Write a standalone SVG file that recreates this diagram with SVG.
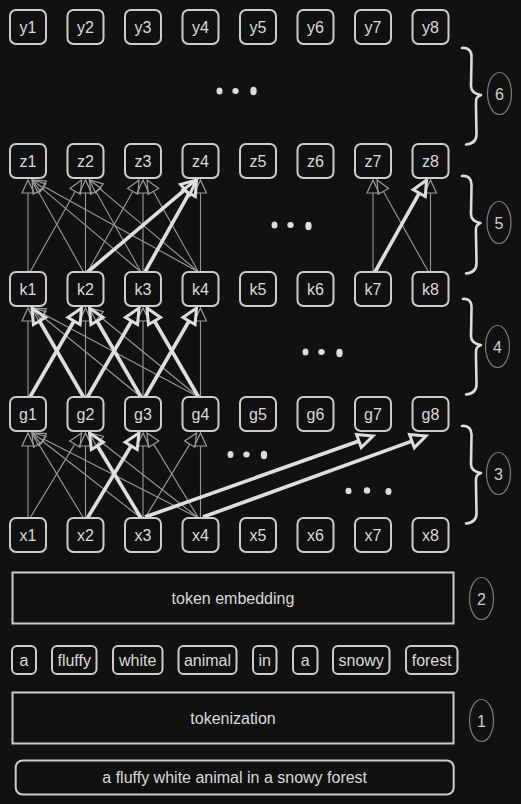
<svg xmlns="http://www.w3.org/2000/svg" width="521" height="804" viewBox="0 0 521 804">
<style>
.bg{fill:#111111}
.box{fill:#111111;stroke:#cdcdcd;stroke-width:2}
.lbl{font-family:"Liberation Sans",Arial,sans-serif;font-size:16px;fill:#dadada;text-anchor:middle}
.num{font-family:"Liberation Sans",Arial,sans-serif;font-size:16px;fill:#cfcfcf;text-anchor:middle}
.ring{fill:none;stroke:#7a7a7a;stroke-width:1.2}
.brace{fill:none;stroke:#dcdcdc;stroke-width:2.6;stroke-linecap:round;stroke-linejoin:round}
.thin{fill:none;stroke:#9a9a9a;stroke-width:1.1;marker-end:url(#ht)}
.thick{fill:none;stroke:#dedede;stroke-width:3.6;marker-end:url(#hk)}
.dot{fill:#dddddd}
</style>
<defs>
<marker id="ht" markerUnits="userSpaceOnUse" markerWidth="16" markerHeight="14" refX="1" refY="7" orient="auto" overflow="visible">
<path d="M1,1 L14,7 L1,13 Z" fill="none" stroke="#9a9a9a" stroke-width="1.2"/>
</marker>
<marker id="hk" markerUnits="userSpaceOnUse" markerWidth="18" markerHeight="18" refX="1" refY="8.5" orient="auto" overflow="visible">
<path d="M1,1.5 L16,8.5 L1,15.5 Z" fill="none" stroke="#dedede" stroke-width="3" stroke-linejoin="miter"/>
</marker>
</defs>
<rect class="bg" x="0" y="0" width="521" height="804"/>

<g id="connectors">
<!-- x -> g -->
<line class="thin" x1="28" y1="518" x2="28" y2="446"/>
<line class="thin" x1="30" y1="518" x2="74.8" y2="444.1"/>
<line class="thin" x1="83.5" y1="518" x2="38.7" y2="444.1"/>
<line class="thin" x1="85.5" y1="518" x2="85.5" y2="446"/>
<line class="thin" x1="141" y1="518" x2="42.3" y2="441"/>
<line class="thin" x1="143" y1="518" x2="143" y2="446"/>
<line class="thin" x1="145" y1="518" x2="189.8" y2="444.1"/>
<line class="thin" x1="198.5" y1="518" x2="43.6" y2="438.9"/>
<line class="thin" x1="198.5" y1="518" x2="99.8" y2="441"/>
<line class="thin" x1="198.5" y1="518" x2="153.7" y2="444.1"/>
<line class="thin" x1="200.5" y1="518" x2="200.5" y2="446"/>
<line class="thick" x1="141" y1="518" x2="97.3" y2="445.8"/>
<line class="thick" x1="87.5" y1="518" x2="131.2" y2="445.8"/>
<line class="thick" x1="145" y1="517" x2="358.9" y2="441"/>
<line class="thick" x1="203" y1="517" x2="411.9" y2="441.1"/>
<!-- g -> k -->
<line class="thin" x1="28" y1="397" x2="28" y2="321"/>
<line class="thin" x1="85.5" y1="397" x2="85.5" y2="321"/>
<line class="thin" x1="143" y1="397" x2="143" y2="321"/>
<line class="thin" x1="200.5" y1="397" x2="200.5" y2="321"/>
<line class="thin" x1="141" y1="397" x2="42.1" y2="316.2"/>
<line class="thin" x1="198.5" y1="397" x2="43.5" y2="314.1"/>
<line class="thin" x1="198.5" y1="397" x2="99.6" y2="316.2"/>
<line class="thick" x1="30" y1="397" x2="74" y2="321"/>
<line class="thick" x1="83.5" y1="397" x2="39.5" y2="321"/>
<line class="thick" x1="87.5" y1="397" x2="131.5" y2="321"/>
<line class="thick" x1="141" y1="397" x2="97" y2="321"/>
<line class="thick" x1="145" y1="397" x2="189" y2="321"/>
<line class="thick" x1="198.5" y1="397" x2="154.5" y2="321"/>
<!-- k -> z -->
<line class="thin" x1="28" y1="272" x2="28" y2="193"/>
<line class="thin" x1="85.5" y1="272" x2="85.5" y2="193"/>
<line class="thin" x1="143" y1="272" x2="143" y2="193"/>
<line class="thin" x1="200.5" y1="272" x2="200.5" y2="193"/>
<line class="thin" x1="30" y1="272" x2="75.2" y2="191.4"/>
<line class="thin" x1="83.5" y1="272" x2="38.4" y2="191.4"/>
<line class="thin" x1="87.5" y1="272" x2="132.7" y2="191.4"/>
<line class="thin" x1="141" y1="272" x2="41.9" y2="188.4"/>
<line class="thin" x1="141" y1="272" x2="95.9" y2="191.4"/>
<line class="thin" x1="198.5" y1="272" x2="43.4" y2="186.3"/>
<line class="thin" x1="198.5" y1="272" x2="99.4" y2="188.4"/>
<line class="thin" x1="198.5" y1="272" x2="153.4" y2="191.4"/>
<line class="thick" x1="87.5" y1="272" x2="185" y2="189.7"/>
<line class="thick" x1="145" y1="272" x2="189.2" y2="193.1"/>
<line class="thin" x1="373" y1="272" x2="373" y2="193"/>
<line class="thin" x1="428.5" y1="272" x2="383.4" y2="191.4"/>
<line class="thin" x1="430.5" y1="272" x2="430.5" y2="193"/>
<line class="thick" x1="375" y1="272" x2="419.2" y2="193.1"/>
</g>

<!-- y row -->
<g id="y1"><rect class="box" x="10" y="10" width="36" height="34" rx="6"/><text class="lbl" x="28" y="33">y1</text></g>
<g id="y2"><rect class="box" x="67.5" y="10" width="36" height="34" rx="6"/><text class="lbl" x="85.5" y="33">y2</text></g>
<g id="y3"><rect class="box" x="125" y="10" width="36" height="34" rx="6"/><text class="lbl" x="143" y="33">y3</text></g>
<g id="y4"><rect class="box" x="182.5" y="10" width="36" height="34" rx="6"/><text class="lbl" x="200.5" y="33">y4</text></g>
<g id="y5"><rect class="box" x="240" y="10" width="36" height="34" rx="6"/><text class="lbl" x="258" y="33">y5</text></g>
<g id="y6"><rect class="box" x="297.5" y="10" width="36" height="34" rx="6"/><text class="lbl" x="315.5" y="33">y6</text></g>
<g id="y7"><rect class="box" x="355" y="10" width="36" height="34" rx="6"/><text class="lbl" x="373" y="33">y7</text></g>
<g id="y8"><rect class="box" x="412.5" y="10" width="36" height="34" rx="6"/><text class="lbl" x="430.5" y="33">y8</text></g>

<!-- z row -->
<g id="z1"><rect class="box" x="10" y="144" width="36" height="34" rx="6"/><text class="lbl" x="28" y="167">z1</text></g>
<g id="z2"><rect class="box" x="67.5" y="144" width="36" height="34" rx="6"/><text class="lbl" x="85.5" y="167">z2</text></g>
<g id="z3"><rect class="box" x="125" y="144" width="36" height="34" rx="6"/><text class="lbl" x="143" y="167">z3</text></g>
<g id="z4"><rect class="box" x="182.5" y="144" width="36" height="34" rx="6"/><text class="lbl" x="200.5" y="167">z4</text></g>
<g id="z5"><rect class="box" x="240" y="144" width="36" height="34" rx="6"/><text class="lbl" x="258" y="167">z5</text></g>
<g id="z6"><rect class="box" x="297.5" y="144" width="36" height="34" rx="6"/><text class="lbl" x="315.5" y="167">z6</text></g>
<g id="z7"><rect class="box" x="355" y="144" width="36" height="34" rx="6"/><text class="lbl" x="373" y="167">z7</text></g>
<g id="z8"><rect class="box" x="412.5" y="144" width="36" height="34" rx="6"/><text class="lbl" x="430.5" y="167">z8</text></g>

<!-- k row -->
<g id="k1"><rect class="box" x="10" y="272" width="36" height="34" rx="6"/><text class="lbl" x="28" y="295">k1</text></g>
<g id="k2"><rect class="box" x="67.5" y="272" width="36" height="34" rx="6"/><text class="lbl" x="85.5" y="295">k2</text></g>
<g id="k3"><rect class="box" x="125" y="272" width="36" height="34" rx="6"/><text class="lbl" x="143" y="295">k3</text></g>
<g id="k4"><rect class="box" x="182.5" y="272" width="36" height="34" rx="6"/><text class="lbl" x="200.5" y="295">k4</text></g>
<g id="k5"><rect class="box" x="240" y="272" width="36" height="34" rx="6"/><text class="lbl" x="258" y="295">k5</text></g>
<g id="k6"><rect class="box" x="297.5" y="272" width="36" height="34" rx="6"/><text class="lbl" x="315.5" y="295">k6</text></g>
<g id="k7"><rect class="box" x="355" y="272" width="36" height="34" rx="6"/><text class="lbl" x="373" y="295">k7</text></g>
<g id="k8"><rect class="box" x="412.5" y="272" width="36" height="34" rx="6"/><text class="lbl" x="430.5" y="295">k8</text></g>

<!-- g row -->
<g id="g1"><rect class="box" x="10" y="397" width="36" height="34" rx="6"/><text class="lbl" x="28" y="420">g1</text></g>
<g id="g2"><rect class="box" x="67.5" y="397" width="36" height="34" rx="6"/><text class="lbl" x="85.5" y="420">g2</text></g>
<g id="g3"><rect class="box" x="125" y="397" width="36" height="34" rx="6"/><text class="lbl" x="143" y="420">g3</text></g>
<g id="g4"><rect class="box" x="182.5" y="397" width="36" height="34" rx="6"/><text class="lbl" x="200.5" y="420">g4</text></g>
<g id="g5"><rect class="box" x="240" y="397" width="36" height="34" rx="6"/><text class="lbl" x="258" y="420">g5</text></g>
<g id="g6"><rect class="box" x="297.5" y="397" width="36" height="34" rx="6"/><text class="lbl" x="315.5" y="420">g6</text></g>
<g id="g7"><rect class="box" x="355" y="397" width="36" height="34" rx="6"/><text class="lbl" x="373" y="420">g7</text></g>
<g id="g8"><rect class="box" x="412.5" y="397" width="36" height="34" rx="6"/><text class="lbl" x="430.5" y="420">g8</text></g>

<!-- x row -->
<g id="x1"><rect class="box" x="10" y="518" width="36" height="34" rx="6"/><text class="lbl" x="28" y="541">x1</text></g>
<g id="x2"><rect class="box" x="67.5" y="518" width="36" height="34" rx="6"/><text class="lbl" x="85.5" y="541">x2</text></g>
<g id="x3"><rect class="box" x="125" y="518" width="36" height="34" rx="6"/><text class="lbl" x="143" y="541">x3</text></g>
<g id="x4"><rect class="box" x="182.5" y="518" width="36" height="34" rx="6"/><text class="lbl" x="200.5" y="541">x4</text></g>
<g id="x5"><rect class="box" x="240" y="518" width="36" height="34" rx="6"/><text class="lbl" x="258" y="541">x5</text></g>
<g id="x6"><rect class="box" x="297.5" y="518" width="36" height="34" rx="6"/><text class="lbl" x="315.5" y="541">x6</text></g>
<g id="x7"><rect class="box" x="355" y="518" width="36" height="34" rx="6"/><text class="lbl" x="373" y="541">x7</text></g>
<g id="x8"><rect class="box" x="412.5" y="518" width="36" height="34" rx="6"/><text class="lbl" x="430.5" y="541">x8</text></g>

<!-- ellipsis dots -->
<g id="dots">
<ellipse class="dot" cx="219.5" cy="91" rx="3" ry="3.6"/>
<ellipse class="dot" cx="235.5" cy="91" rx="3.2" ry="3"/>
<ellipse class="dot" cx="253.5" cy="91" rx="3.2" ry="4.2"/>
<ellipse class="dot" cx="274.5" cy="225" rx="3" ry="3.6"/>
<ellipse class="dot" cx="290.5" cy="225" rx="3.2" ry="3"/>
<ellipse class="dot" cx="308.5" cy="226" rx="3.2" ry="4.2"/>
<ellipse class="dot" cx="305.5" cy="352" rx="3" ry="3.6"/>
<ellipse class="dot" cx="321.5" cy="352" rx="3.2" ry="3"/>
<ellipse class="dot" cx="339.5" cy="353" rx="3.2" ry="4.2"/>
<ellipse class="dot" cx="230.5" cy="454.5" rx="3" ry="3.6"/>
<ellipse class="dot" cx="246.5" cy="454.5" rx="3.2" ry="3"/>
<ellipse class="dot" cx="264" cy="455" rx="3.2" ry="4.2"/>
<ellipse class="dot" cx="348.5" cy="491" rx="3" ry="3.2"/>
<ellipse class="dot" cx="367" cy="490.5" rx="3.2" ry="3.2"/>
<ellipse class="dot" cx="388.5" cy="491.5" rx="3" ry="3.4"/>
</g>

<!-- braces and step numbers -->
<g id="step6">
<path class="brace" d="M462,48 C468,47 472,51 471.5,58 L471,86 C471,92 475,94 481,95 C475,97 476,100 476,107 L476.5,134 C476.5,141 472,144 466,144.5"/>
<ellipse class="ring" cx="499.5" cy="93.5" rx="12" ry="21"/><text class="num" x="499.5" y="99.5">6</text>
</g>
<g id="step5">
<path class="brace" d="M462,176 C468,175 472,179 471.5,186 L471,214 C471,220 475,222 480.5,223 C475,225 476,228 476,235 L476.5,263 C476.5,270 472,273 466,273.5"/>
<ellipse class="ring" cx="499" cy="222.5" rx="12" ry="21"/><text class="num" x="499" y="228.5">5</text>
</g>
<g id="step4">
<path class="brace" d="M463,299 C469,298 472,302 471.5,309 L471,336 C471,342 475,344 481,345 C475,347 476,350 476,357 L476.5,384 C476.5,391 472,394 466,394.5"/>
<ellipse class="ring" cx="497.5" cy="346.5" rx="12" ry="21"/><text class="num" x="497.5" y="352.5">4</text>
</g>
<g id="step3">
<path class="brace" d="M462,426 C468,425 472,429 471.5,436 L471,464 C471,470 475,472 481,473 C475,475 476,478 476,485 L476.5,513 C476.5,520 472,523 466,523.5"/>
<ellipse class="ring" cx="498.5" cy="473.5" rx="12" ry="21"/><text class="num" x="498.5" y="479.5">3</text>
</g>

<g id="token-embedding">
<rect x="12.5" y="572.5" width="441" height="51" fill="#111111" stroke="#cdcdcd" stroke-width="2"/>
<text class="lbl" x="233" y="604.3">token embedding</text>
</g>
<g id="step2"><ellipse class="ring" cx="481.5" cy="598.5" rx="12" ry="21"/><text class="num" x="481.5" y="604.5">2</text></g>

<g id="tokens">
<g id="t1"><rect class="box" x="12" y="646" width="24" height="28" rx="5"/><text class="lbl" x="24" y="666">a</text></g>
<g id="t2"><rect class="box" x="52" y="646" width="44.5" height="28" rx="5"/><text class="lbl" x="74.2" y="666">fluffy</text></g>
<g id="t3"><rect class="box" x="113" y="646" width="49.5" height="28" rx="5"/><text class="lbl" x="137.7" y="666">white</text></g>
<g id="t4"><rect class="box" x="178.5" y="646" width="58" height="28" rx="5"/><text class="lbl" x="207.5" y="666">animal</text></g>
<g id="t5"><rect class="box" x="253" y="646" width="23.5" height="28" rx="5"/><text class="lbl" x="264.7" y="666">in</text></g>
<g id="t6"><rect class="box" x="293" y="646" width="24.5" height="28" rx="5"/><text class="lbl" x="305.2" y="666">a</text></g>
<g id="t7"><rect class="box" x="333" y="646" width="56.5" height="28" rx="5"/><text class="lbl" x="361.2" y="666">snowy</text></g>
<g id="t8"><rect class="box" x="406" y="646" width="51.5" height="28" rx="5"/><text class="lbl" x="431.7" y="666">forest</text></g>
</g>

<g id="tokenization">
<rect x="12.5" y="692.5" width="441" height="51" fill="#111111" stroke="#cdcdcd" stroke-width="2"/>
<text class="lbl" x="233" y="724.3">tokenization</text>
</g>
<g id="step1"><ellipse class="ring" cx="481.5" cy="720.5" rx="12" ry="21"/><text class="num" x="481.5" y="726.5">1</text></g>

<g id="sentence">
<rect class="box" x="15.7" y="760.5" width="438" height="34" rx="7"/>
<text class="lbl" x="234.7" y="783">a fluffy white animal in a snowy forest</text>
</g>
</svg>
